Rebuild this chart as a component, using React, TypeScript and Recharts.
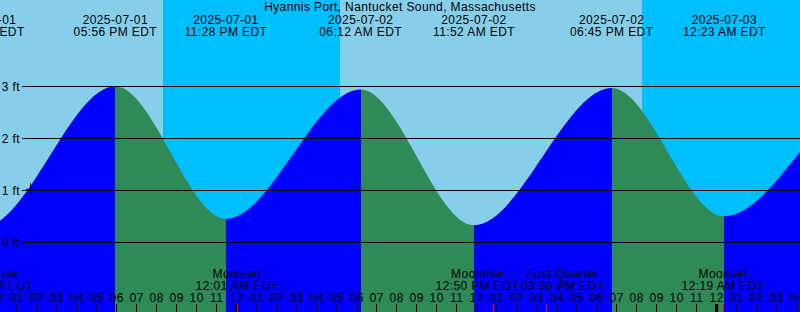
import React from 'react';
import { ComposedChart, Area, XAxis, YAxis, ReferenceArea, ReferenceLine, ReferenceDot } from 'recharts';

// times are hours counted from 2025-07-01 00:00 EDT
const tideHours = [5.0, 11.35, 17.933, 23.467, 30.2, 35.867, 42.75, 48.383, 55.8, 61.9];
const tideFeet = [2.9, 0.3, 3.0, 0.45, 2.94, 0.33, 2.97, 0.5, 2.9, 0.4];
const tideDates = ['2025-07-01', '2025-07-01', '2025-07-01', '2025-07-01', '2025-07-02', '2025-07-02', '2025-07-02', '2025-07-03', '2025-07-03', '2025-07-03'];
const tideClock = ['05:00 AM EDT', '11:21 AM EDT', '05:56 PM EDT', '11:28 PM EDT', '06:12 AM EDT', '11:52 AM EDT', '06:45 PM EDT', '12:23 AM EDT', '07:48 AM EDT', '01:54 PM EDT'];

const nightStart = [20.317, 44.267];
const nightEnd = [29.167, 53.2];

const moonHours = [11.783, 24.017, 36.833, 39.5, 48.317];
const moonNames = ['Moonrise', 'Moonset', 'Moonrise', 'First Quarter', 'Moonset'];
const moonClock = ['11:47 AM EDT', '12:01 AM EDT', '12:50 PM EDT', '03:30 PM EDT', '12:19 AM EDT'];

const levelTicks = [0, 1, 2, 3];
const markerHour = 13.667;
const markerFeet = 1;

const startHour = 12 + 10 / 60;
const spanHours = 40;
const hourTicks = Array.from({ length: 41 }, (_, i) => 12 + i);

const yMin = -1.34;
const yMax = 4.66;

// styles
const W = 800;
const H = 312;
const DAY = '#87CEEB';
const NIGHT = '#00BFFF';
const FLOOD = '#0000FF';
const EBB = '#2E8B57';
const FONT = '"Liberation Sans", Arial, sans-serif';
const FS = 12;
const LS = 0.4;
const moonNudge = [0, 0, -16, 16, 0];

const tideData = tideHours.map((h, i) => ({ h, ft: tideFeet[i] }));

const first = tideHours[0];
const last = tideHours[tideHours.length - 1];
const stops: { off: number; color: string }[] = [];
for (let i = 0; i < tideHours.length - 1; i++) {
  const color = tideFeet[i] < tideFeet[i + 1] ? FLOOD : EBB;
  stops.push({ off: (tideHours[i] - first) / (last - first), color });
  stops.push({ off: (tideHours[i + 1] - first) / (last - first), color });
}

const px = (v: number) => Math.floor(v) + 0.5;

const txt = { fontFamily: FONT, fontSize: FS, letterSpacing: LS, fill: '#000' } as const;

const hourLabel = (v: number) => {
  const hr = v % 24;
  const h12 = hr % 12 === 0 ? 12 : hr % 12;
  return String(h12).padStart(2, '0');
};

export default function App() {
  return (
    <div style={{ position: 'absolute', left: 0, top: 0, width: W, height: H, background: DAY, overflow: 'hidden' }}>
      <ComposedChart width={W} height={H} data={tideData} margin={{ top: 0, right: 0, bottom: 0, left: 0 }}>
        <defs>
          <linearGradient id="tideFill" x1="0" y1="0" x2="1" y2="0">
            {stops.map((s, i) => (
              <stop key={i} offset={s.off} stopColor={s.color} />
            ))}
          </linearGradient>
        </defs>
        <XAxis dataKey="h" type="number" domain={[startHour, startHour + spanHours]} allowDataOverflow hide />
        <YAxis type="number" domain={[yMin, yMax]} allowDataOverflow hide />
        {nightStart.map((s, i) => (
          <ReferenceArea key={'n' + i} x1={s} x2={nightEnd[i]} fill={NIGHT} fillOpacity={1} stroke="none" ifOverflow="hidden" />
        ))}
        <Area
          type="monotone"
          dataKey="ft"
          stroke="none"
          fill="url(#tideFill)"
          fillOpacity={1}
          baseValue={yMin}
          isAnimationActive={false}
          dot={false}
          activeDot={false}
        />
        {levelTicks.map((v) => (
          <ReferenceLine
            key={'l' + v}
            y={v}
            shape={(p: any) => (
              <g>
                <line x1={22} x2={W} y1={px(p.y1)} y2={px(p.y1)} stroke="#000" strokeWidth={1} />
                <text x={20} y={p.y1 + 4.5} textAnchor="end" {...txt}>{v} ft</text>
              </g>
            )}
          />
        ))}
        {hourTicks.map((v) => (
          <ReferenceLine
            key={'h' + v}
            x={v}
            ifOverflow="visible"
            shape={(p: any) => {
              const midnight = v % 24 === 0;
              const x = midnight ? p.x1 : px(p.x1);
              return (
                <g>
                  <text x={p.x1} y={301.5} textAnchor="middle" {...txt}>{hourLabel(v)}</text>
                  <line x1={x} x2={x} y1={304} y2={H} stroke="#000" strokeWidth={midnight ? 3 : 1} />
                </g>
              );
            }}
          />
        ))}
        {moonHours.map((h, i) => (
          <ReferenceLine
            key={'m' + i}
            x={h}
            ifOverflow="visible"
            shape={(p: any) => (
              <g>
                <text x={p.x1 + moonNudge[i]} y={278.3} textAnchor="middle" {...txt}>{moonNames[i]}</text>
                <text x={p.x1 + moonNudge[i]} y={290} textAnchor="middle" {...txt}>{moonClock[i]}</text>
                <line x1={px(p.x1)} x2={px(p.x1)} y1={304} y2={H} stroke="#FF0000" strokeWidth={1} />
              </g>
            )}
          />
        ))}
        <ReferenceDot
          x={markerHour}
          y={markerFeet}
          ifOverflow="visible"
          shape={(p: any) => (
            <g stroke="#000" strokeWidth={1}>
              <line x1={px(p.cx)} x2={px(p.cx)} y1={p.cy - 7} y2={p.cy + 3} />
              <line x1={p.cx - 4} x2={p.cx + 4} y1={px(p.cy - 1)} y2={px(p.cy - 1)} />
            </g>
          )}
        />
        {tideHours.map((h, i) => (
          <ReferenceDot
            key={'t' + i}
            x={h}
            y={tideFeet[i]}
            ifOverflow="visible"
            shape={(p: any) => (
              <g>
                <text x={p.cx} y={23.5} textAnchor="middle" {...txt}>{tideDates[i]}</text>
                <text x={p.cx} y={36} textAnchor="middle" {...txt}>{tideClock[i]}</text>
              </g>
            )}
          />
        ))}
      </ComposedChart>
      <div
        style={{
          position: 'absolute',
          left: 0,
          top: 0,
          width: W,
          textAlign: 'center',
          fontFamily: FONT,
          fontSize: FS,
          letterSpacing: LS,
          lineHeight: '14px',
          color: '#000',
          pointerEvents: 'none',
        }}
      >
        Hyannis Port, Nantucket Sound, Massachusetts
      </div>
    </div>
  );
}
